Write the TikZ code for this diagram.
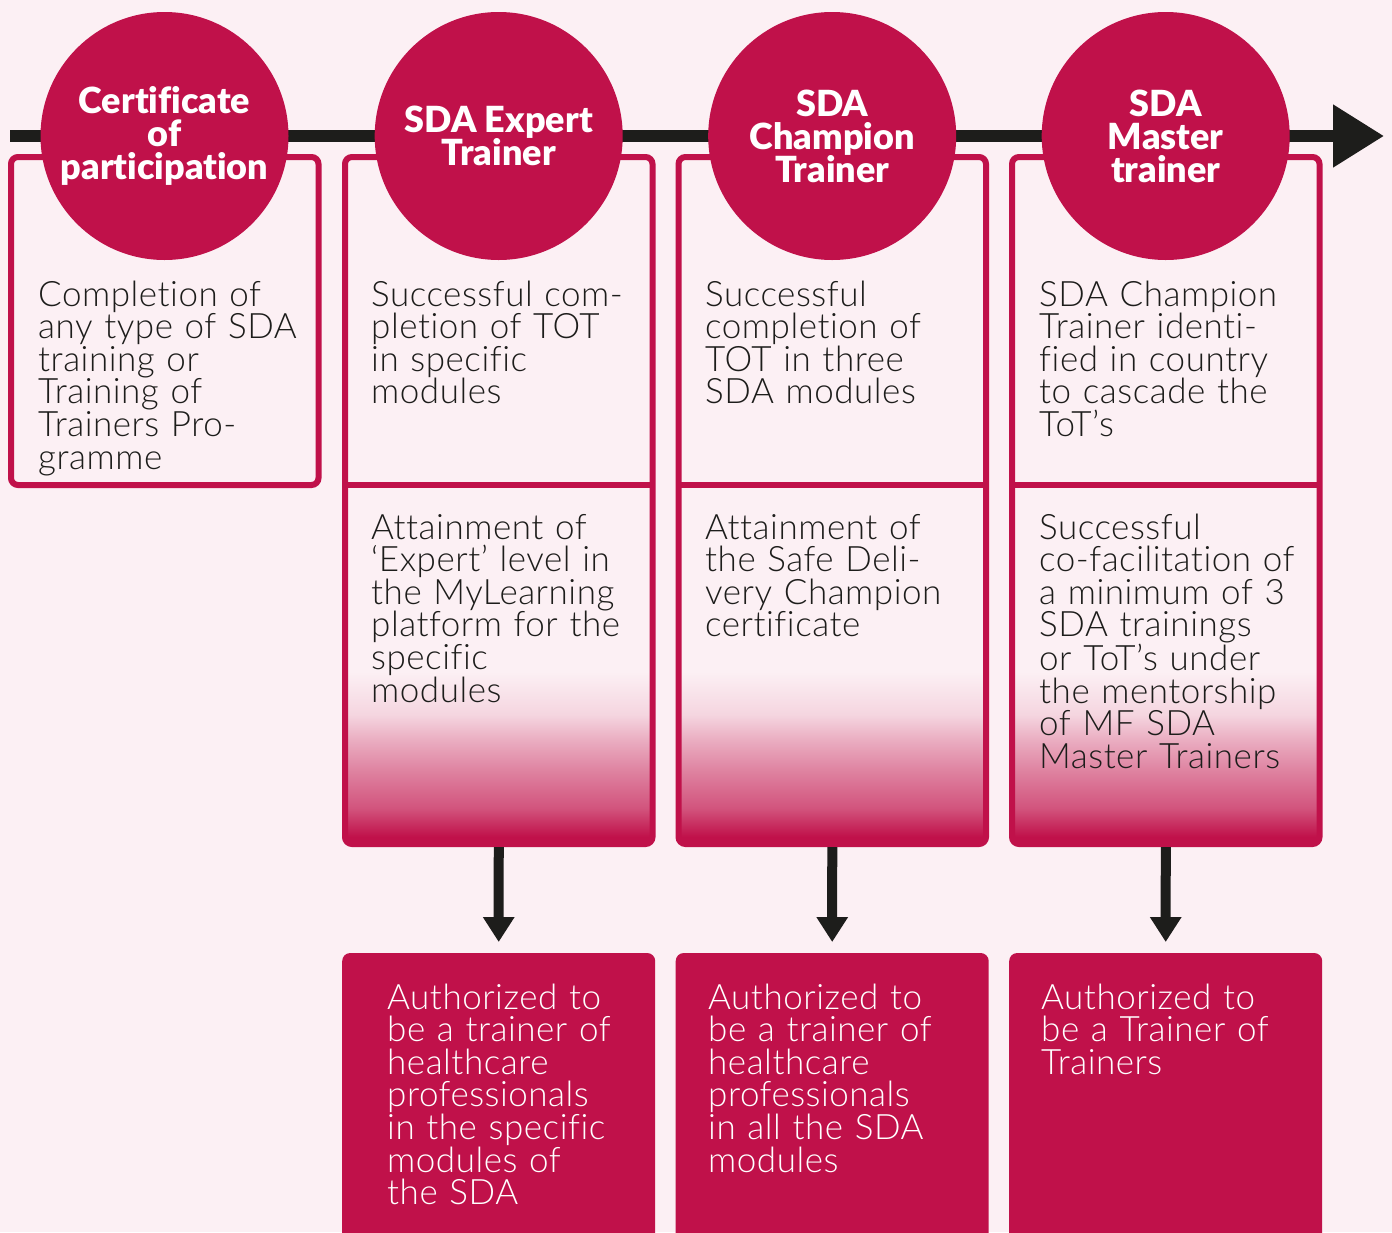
\documentclass[tikz,border=0pt]{standalone}
\usepackage{fontspec}
\setmainfont{Lato Light}[BoldFont={Lato Black},Ligatures=NoCommon]
\usetikzlibrary{arrows.meta,positioning}

\definecolor{sdared}{HTML}{C0114A}
\definecolor{sdabg}{HTML}{FCF0F4}
\definecolor{sdaink}{HTML}{1D1D1B}
\colorlet{fadeA}{sdared!70!sdabg}
\colorlet{fadeB}{sdared!50!sdabg}
\colorlet{fadeC}{sdared!30!sdabg}
\colorlet{fadeD}{sdared!12!sdabg}

\pgfdeclareverticalshading{sdafade}{100bp}{color(0bp)=(sdared); color(26bp)=(sdared); color(30bp)=(fadeA); color(35bp)=(fadeB); color(39.5bp)=(fadeC); color(43bp)=(fadeD); color(49bp)=(sdabg); color(100bp)=(sdabg)}

\begin{document}
\begin{tikzpicture}[x=1pt, y=-1pt,
    frame/.style={draw=sdared, line width=6pt, rounded corners=7pt, minimum width=307.5pt,
                  inner sep=0pt, outer sep=0pt, anchor=north west},
    badge/.style={circle, fill=sdared, minimum size=248pt, inner sep=0pt, text=white,
                  align=center, font=\bfseries\fontsize{36}{33}\selectfont},
    body/.style={anchor=base west, inner sep=0pt, text width=310pt, align=left, text=sdaink,
                 font=\fontsize{35}{32.6}\selectfont\addfontfeatures{LetterSpace=1.5}},
    authbox/.style={fill=sdared, rounded corners=8pt, minimum width=313pt, minimum height=300pt,
                    inner sep=0pt, outer sep=0pt, anchor=north west},
    down/.style={draw=sdaink, line width=10pt, -{Triangle[width=30pt,length=25pt]},
                 shorten <=3pt, shorten >=11pt}]

    \useasboundingbox (0,0) rectangle (1392,1232);
    \fill[sdabg] (0,0) rectangle (1392,1232);

    % -- Timeline --
    \coordinate (start) at (10,136);
    \coordinate (end) at (1384,136);
    \draw[sdaink, line width=11.5pt, -{Triangle[width=60pt,length=51pt]}] (start) -- (end);

    % -- Boxes --
    \node[frame, minimum height=328pt] (col1) at (11,157) {};
    \foreach \x/\n in {345/2, 678.5/3, 1012/4} {
        \shade[shading=sdafade, rounded corners=7pt] (\x,485) rectangle ++(307.5,359);
        \node[frame, minimum height=687pt] (col\n) at (\x,157) {};
        \draw[sdared, line width=6pt] (\x,485) -- ++(307.5,0);
    }

    % -- Levels --
    \node[badge] (cert) at (164.5,136) {Certificate\\of\\participation};
    \node[badge] (expert) at (498.7,136) {SDA Expert\\Trainer};
    \node[badge] (champion) at (832.2,136) {SDA\\Champion\\Trainer};
    \node[badge] (master) at (1165.7,136) {SDA\\Master\\trainer};

    % -- Requirements --
    \node[body] (req1) at (38,306) {Completion of\\any type of SDA\\training or\\Training of\\Trainers Pro-\\gramme};
    \node[body] (req2) at (371,306) {Successful com-\\pletion of TOT\\in specific\\modules};
    \node[body] (req3) at (705,306) {Successful\\completion of\\TOT in three\\SDA modules};
    \node[body] (req4) at (1039,306) {SDA Champion\\Trainer identi-\\fied in country\\to cascade the\\ToT’s};

    \node[body] (att2) at (371,539) {Attainment of\\‘Expert’ level in\\the MyLearning\\platform for the\\specific\\modules};
    \node[body] (att3) at (705,539) {Attainment of\\the Safe Deli-\\very Champion\\certificate};
    \node[body] (att4) at (1039,539) {Successful\\co-facilitation of\\a minimum of 3\\SDA trainings\\or ToT’s under\\the mentorship\\of MF SDA\\Master Trainers};

    % -- Authorization --
    \node[authbox] (auth2) at (342.2,953) {};
    \node[authbox] (auth3) at (675.7,953) {};
    \node[authbox] (auth4) at (1009.2,953) {};

    \node[body, text=white] (perm2) at (387,1009) {Authorized to\\be a trainer of\\healthcare\\professionals\\in the specific\\modules of\\the SDA};
    \node[body, text=white] (perm3) at (708,1009) {Authorized to\\be a trainer of\\healthcare\\professionals\\in all the SDA\\modules};
    \node[body, text=white] (perm4) at (1041,1009) {Authorized to\\be a Trainer of\\Trainers};

    \draw[down] (col2.south) -- (auth2.north);
    \draw[down] (col3.south) -- (auth3.north);
    \draw[down] (col4.south) -- (auth4.north);
\end{tikzpicture}
\end{document}
